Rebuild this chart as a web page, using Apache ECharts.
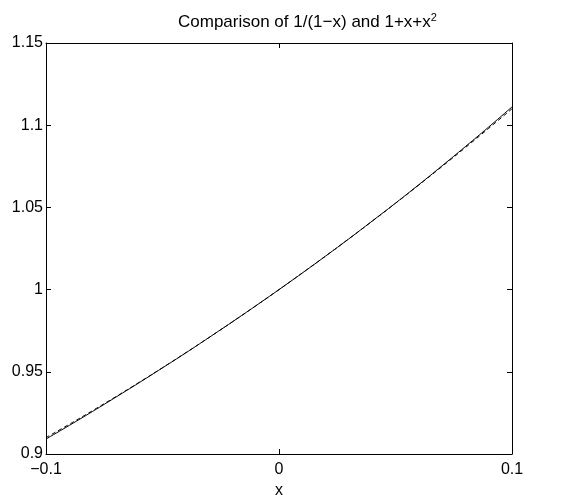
<!DOCTYPE html>
<html>
<head>
<meta charset="utf-8">
<script src="https://cdn.jsdelivr.net/npm/echarts@6/dist/echarts.min.js"></script>
<style>
  html, body { margin: 0; padding: 0; background: #fff; }
  #main { width: 586px; height: 495px; }
</style>
</head>
<body>
<div id="main"></div>
<script>
// x 取值
var xValues = [-0.10, -0.09, -0.08, -0.07, -0.06, -0.05, -0.04, -0.03, -0.02, -0.01,
  0.00, 0.01, 0.02, 0.03, 0.04, 0.05, 0.06, 0.07, 0.08, 0.09, 0.10];
// 1/(1-x) 实线
var exactValues = [0.9091, 0.9174, 0.9259, 0.9346, 0.9434, 0.9524, 0.9615, 0.9709, 0.9804, 0.9901,
  1.0000, 1.0101, 1.0204, 1.0309, 1.0417, 1.0526, 1.0638, 1.0753, 1.0870, 1.0989, 1.1111];
// 1+x+x^2 虚线
var approxValues = [0.9100, 0.9181, 0.9264, 0.9349, 0.9436, 0.9525, 0.9616, 0.9709, 0.9804, 0.9901,
  1.0000, 1.0101, 1.0204, 1.0309, 1.0416, 1.0525, 1.0636, 1.0749, 1.0864, 1.0981, 1.1100];

function pairs (ys) {
  return xValues.map(function (x, i) { return [x, ys[i]]; });
}

var font = 'Liberation Sans, Arial, sans-serif';
var myChart = echarts.init(document.getElementById('main'));

// 坐标轴公共样式：刻度朝内，不过零点
var lineStyle = { color: '#000', width: 1 };
var tickIn = { show: true, inside: true, length: 5, lineStyle: lineStyle };
var axisLine = { show: true, onZero: false, lineStyle: lineStyle };

var option = {
  backgroundColor: '#fff',
  animation: false,
  title: {
    text: 'Comparison of 1/(1\u2212x) and 1+x+x{sup|2}',
    left: 178,
    top: 12,
    padding: 0,
    textStyle: {
      fontFamily: font, fontSize: 17, fontWeight: 'normal', color: '#000',
      rich: { sup: { fontFamily: font, fontSize: 11, color: '#000', padding: [0, 0, 10, 0] } }
    }
  },
  // 绘图区位置固定，不让标签挤压
  grid: { left: 46, right: 74, top: 43, bottom: 41, outerBoundsMode: 'none' },
  xAxis: [
    {
      type: 'value', min: -0.1, max: 0.1, interval: 0.1,
      name: 'x', nameLocation: 'middle', nameGap: 19,
      nameTextStyle: { fontFamily: font, fontSize: 16, color: '#000' },
      axisLine: axisLine,
      axisTick: tickIn,
      splitLine: { show: false },
      axisLabel: {
        fontFamily: font, fontSize: 16, color: '#000', margin: 8,
        formatter: function (v) {
          var r = Math.round(v * 10) / 10;
          return String(r).replace('-', '\u2212');
        }
      }
    },
    {
      type: 'value', position: 'top', min: -0.1, max: 0.1, interval: 0.1,
      axisLine: axisLine,
      axisTick: tickIn,
      axisLabel: { show: false },
      splitLine: { show: false }
    }
  ],
  yAxis: [
    {
      type: 'value', position: 'left', min: 0.9, max: 1.15, interval: 0.05,
      axisLine: axisLine,
      axisTick: tickIn,
      splitLine: { show: false },
      axisLabel: {
        fontFamily: font, fontSize: 16, color: '#000', margin: 3,
        formatter: function (v) {
          return String(Math.round(v * 100) / 100);
        }
      }
    },
    {
      type: 'value', position: 'right', min: 0.9, max: 1.15, interval: 0.05,
      axisLine: axisLine,
      axisTick: tickIn,
      axisLabel: { show: false },
      splitLine: { show: false }
    }
  ],
  series: [
    {
      name: '1/(1-x)', type: 'line', data: pairs(exactValues),
      smooth: true, showSymbol: false,
      lineStyle: { color: '#000', width: 1, type: 'solid' }
    },
    {
      name: '1+x+x^2', type: 'line', data: pairs(approxValues),
      smooth: true, showSymbol: false,
      lineStyle: { color: '#000', width: 1, type: [4, 3] }
    }
  ]
};
myChart.setOption(option);
</script>
</body>
</html>
